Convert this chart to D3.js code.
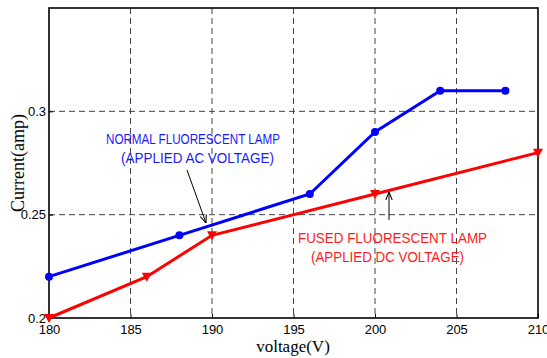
<!DOCTYPE html>
<html>
<head>
<meta charset="utf-8">
<script src="https://cdn.jsdelivr.net/npm/d3@7"></script>
<style>
  body { margin: 0; background: #fff; }
  svg { display: block; }
</style>
</head>
<body>
<div id="chart"></div>
<script>
// chart data
var acVoltage = [180, 188, 196, 200, 204, 208];
var acCurrent = [0.22, 0.24, 0.26, 0.29, 0.31, 0.31];
var dcVoltage = [180, 186, 190, 200, 210];
var dcCurrent = [0.20, 0.22, 0.24, 0.26, 0.28];
var xTicks = [180, 185, 190, 195, 200, 205, 210];
var yTicks = [0.2, 0.25, 0.3];
var acLabel = ["NORMAL FLUORESCENT LAMP", "(APPLIED AC VOLTAGE)"];
var dcLabel = ["FUSED FLUORESCENT LAMP", "(APPLIED DC VOLTAGE)"];

var width = 547, height = 358;
var plotLeft = 49, plotRight = 538, plotTop = 8, plotBottom = 318;

var svg = d3.select("#chart")
  .append("svg")
  .attr("width", width)
  .attr("height", height);

var defs = svg.append("defs");
defs.append("marker")
  .attr("id", "arrow")
  .attr("viewBox", "0 0 10 10")
  .attr("refX", 10)
  .attr("refY", 5)
  .attr("markerWidth", 8)
  .attr("markerHeight", 8)
  .attr("markerUnits", "userSpaceOnUse")
  .attr("orient", "auto")
  .append("path")
  .attr("d", "M0,1 L10,5 L0,9")
  .attr("fill", "none")
  .attr("stroke", "#000")
  .attr("stroke-width", 1.3);

// scales
var xScale = d3.scaleLinear().domain([180, 210]).range([plotLeft, plotRight]);
var yScale = d3.scaleLinear().domain([0.2, 0.35]).range([plotBottom, plotTop]);

// dashed grid
var grid = svg.append("g");
xTicks.slice(1, -1).forEach(function (v) {
  grid.append("line")
    .attr("x1", xScale(v)).attr("x2", xScale(v))
    .attr("y1", plotTop).attr("y2", plotBottom)
    .style("stroke", "#444")
    .style("stroke-dasharray", "6,4");
});
yTicks.slice(1).forEach(function (v) {
  grid.append("line")
    .attr("x1", plotLeft).attr("x2", plotRight)
    .attr("y1", yScale(v)).attr("y2", yScale(v))
    .style("stroke", "#444")
    .style("stroke-dasharray", "6,4");
});

// axes
var xAxis = d3.axisBottom(xScale).tickValues(xTicks).tickSize(-4).tickPadding(7).tickFormat(d3.format("d"));
var yAxis = d3.axisLeft(yScale).tickValues(yTicks).tickSize(-4).tickPadding(3).tickFormat(function (d) { return String(d); });

var gx = svg.append("g")
  .attr("transform", "translate(0," + plotBottom + ")")
  .call(xAxis);
var gy = svg.append("g")
  .attr("transform", "translate(" + plotLeft + ",0)")
  .call(yAxis);
[gx, gy].forEach(function (g) {
  g.select(".domain").remove();
  g.selectAll("text")
    .style("font-family", "Liberation Sans, Arial, sans-serif")
    .style("font-size", "13px")
    .attr("fill", "#000");
  g.selectAll("line").attr("stroke", "#000");
});

// box
svg.append("rect")
  .attr("x", plotLeft).attr("y", plotTop)
  .attr("width", plotRight - plotLeft).attr("height", plotBottom - plotTop)
  .attr("fill", "none")
  .attr("stroke", "#000")
  .attr("stroke-width", 1.6);

// series
var acData = acVoltage.map(function (v, i) { return [v, acCurrent[i]]; });
var dcData = dcVoltage.map(function (v, i) { return [v, dcCurrent[i]]; });
var line = d3.line()
  .x(function (d) { return xScale(d[0]); })
  .y(function (d) { return yScale(d[1]); });

svg.append("path")
  .datum(dcData)
  .attr("d", line)
  .attr("fill", "none")
  .attr("stroke", "#ff0000")
  .attr("stroke-width", 3);
svg.append("g").selectAll("path")
  .data(dcData)
  .enter()
  .append("path")
  .attr("transform", function (d) { return "translate(" + xScale(d[0]) + "," + yScale(d[1]) + ")"; })
  .attr("d", "M-5,-4 L5,-4 L0,5 Z")
  .attr("fill", "#ff0000");

svg.append("path")
  .datum(acData)
  .attr("d", line)
  .attr("fill", "none")
  .attr("stroke", "#0000ff")
  .attr("stroke-width", 3);
svg.append("g").selectAll("circle")
  .data(acData)
  .enter()
  .append("circle")
  .attr("cx", function (d) { return xScale(d[0]); })
  .attr("cy", function (d) { return yScale(d[1]); })
  .attr("r", 4)
  .attr("fill", "#0000ff");

// annotations
function addLabel(lines, color, xs, ys, lens) {
  lines.forEach(function (t, i) {
    svg.append("text")
      .attr("x", xs[i]).attr("y", ys[i])
      .attr("textLength", lens[i])
      .attr("lengthAdjust", "spacingAndGlyphs")
      .style("font-family", "Liberation Sans, Arial, sans-serif")
      .style("font-size", "15px")
      .attr("fill", color)
      .text(t);
  });
}
addLabel(acLabel, "#1a1aff", [106, 121], [144, 163], [174, 153]);
addLabel(dcLabel, "#ff1a1a", [298, 311], [243, 262], [189, 153]);

svg.append("line")
  .attr("x1", 187).attr("y1", 170)
  .attr("x2", 206).attr("y2", 223)
  .attr("stroke", "#000")
  .attr("stroke-width", 1)
  .attr("marker-end", "url(#arrow)");
svg.append("line")
  .attr("x1", 389).attr("y1", 220)
  .attr("x2", 389).attr("y2", 192)
  .attr("stroke", "#000")
  .attr("stroke-width", 1)
  .attr("marker-end", "url(#arrow)");

// axis titles
svg.append("text")
  .attr("x", 293).attr("y", 352)
  .attr("text-anchor", "middle")
  .style("font-family", "Liberation Serif, Times New Roman, serif")
  .style("font-size", "17px")
  .attr("fill", "#000")
  .text("voltage(V)");
svg.append("text")
  .attr("transform", "translate(24," + ((plotTop + plotBottom) / 2) + ") rotate(-90)")
  .attr("text-anchor", "middle")
  .style("font-family", "Liberation Serif, Times New Roman, serif")
  .style("font-size", "18px")
  .attr("fill", "#000")
  .text("Current(amp)");
</script>
</body>
</html>
